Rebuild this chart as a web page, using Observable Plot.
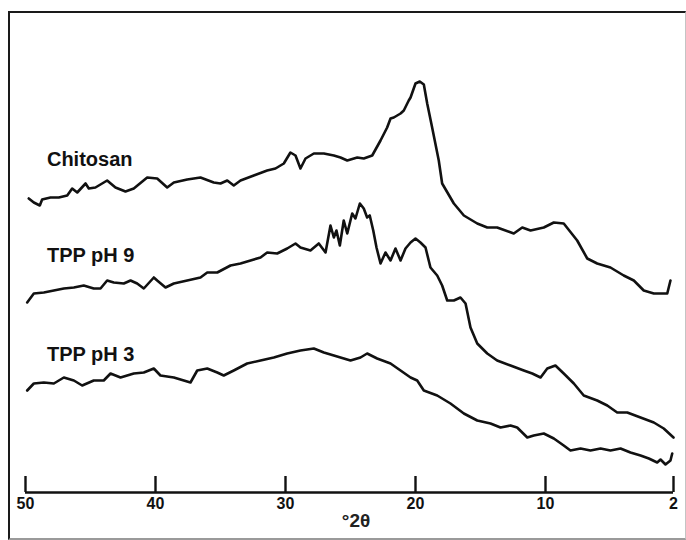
<!DOCTYPE html>
<html><head><meta charset="utf-8">
<script src="https://cdn.jsdelivr.net/npm/d3@7"></script>
<script src="https://cdn.jsdelivr.net/npm/@observablehq/plot@0.6"></script>
<style>
body{margin:0;background:#fff}
#wrap{position:relative;width:686px;height:540px;overflow:hidden;background:#fff}
#border{position:absolute;left:8px;top:11px;right:0;bottom:0;border-left:2px solid #1a1a1a;border-top:2px solid #1a1a1a;border-bottom:2px solid #9a9a9a;border-right:1px solid #c4c4c4;pointer-events:none}
</style></head><body><div id="wrap"><div id="border"></div></div>
<script>
// °2θ values and intensities (arbitrary units, traces offset vertically)
const chitosanAngle = [49.75,49.36,48.9,48.72,48.08,47.44,46.79,46.41,46.02,45.38,45.13,44.62,43.72,43.08,42.31,41.67,40.64,39.87,39.1,38.59,37.56,36.54,35.52,35.0,34.48,33.98,33.46,32.44,31.41,30.77,30.13,29.62,29.23,28.85,28.46,27.82,27.05,26.28,25.77,25.25,24.48,23.98,23.33,22.69,22.18,21.92,21.67,21.15,20.9,20.52,20.38,20.0,19.67,19.36,19.1,18.72,18.21,17.95,17.05,16.28,15.25,14.48,13.72,12.44,11.79,11.15,10.13,9.48,8.86,8.02,7.39,6.77,5.94,5.11,4.48,3.86,3.23,2.39,2.19];
const chitosanIntensity = [294,290,287,293,295,295,297,304,300,309,304,305,312,305,301,304,315,314,305,310,313,315,310,309,312,307,312,317,322,324,329,340,337,324,334,339,339,337,335,332,335,334,337,352,365,374,375,379,382,392,395,409,411,408,389,365,332,309,289,277,269,265,265,259,265,262,265,270,269,252,234,229,225,217,212,202,199,199,212];

const ph9Angle = [49.87,49.36,48.59,47.82,47.05,46.28,45.52,44.75,44.23,43.72,43.21,42.44,41.92,41.41,40.9,40.13,39.87,39.23,38.59,37.56,36.54,36.02,35.25,34.23,33.46,32.69,31.92,31.41,30.64,29.87,29.23,28.85,28.08,27.44,26.92,26.54,26.28,26.08,25.82,25.52,25.25,24.87,24.62,24.28,23.98,23.72,23.52,23.25,23.0,22.69,22.31,21.92,21.54,21.15,20.77,20.38,20.0,19.62,19.23,18.85,18.33,17.95,17.56,17.05,16.54,16.15,15.77,15.25,14.48,13.72,12.69,11.67,11.02,10.38,9.89,9.38,8.86,8.23,7.61,6.77,6.14,5.52,4.89,4.06,3.23,2.61,2.0];
const ph9Intensity = [190,199,200,202,204,205,207,204,204,212,210,209,212,209,204,215,212,205,209,212,215,220,220,227,229,232,235,240,239,244,249,245,242,249,240,267,255,262,247,272,259,279,274,289,284,275,277,262,245,229,240,232,244,232,244,250,254,250,245,225,217,207,192,192,195,189,165,149,139,132,127,122,119,115,124,127,119,109,97,92,87,80,80,75,70,64,55];

const ph3Angle = [49.87,49.36,48.59,47.82,47.05,46.28,45.64,44.75,43.98,43.46,42.69,41.67,40.9,40.13,39.62,38.59,37.31,36.79,36.02,35.25,34.75,33.98,32.95,31.92,30.9,29.87,28.85,27.82,27.05,26.28,25.77,25.0,24.23,23.72,22.95,21.92,21.15,20.38,19.87,19.36,18.33,17.31,16.28,15.25,14.23,13.46,12.69,12.18,11.4,10.9,10.13,9.48,8.86,8.44,7.81,7.19,6.56,5.94,5.31,4.69,4.06,3.54,3.02,2.81,2.5,2.19,2.08];
const ph3Intensity = [102,109,110,109,115,112,107,112,112,119,115,119,120,124,117,115,110,122,124,120,117,122,129,132,135,139,142,144,140,137,135,132,135,139,134,129,122,115,112,102,97,89,79,72,69,65,67,65,55,57,59,54,47,42,44,42,44,42,44,40,37,34,30,33,28,32,39];

const seriesNames = ["Chitosan", "TPP pH 9", "TPP pH 3"];
const labelAngle = 48.35;
const labelIntensity = [333, 237, 138];
const tickValues = [50, 40, 30, 20, 10, 2];
const axisTitle = "°2θ";

const angles = [chitosanAngle, ph9Angle, ph3Angle];
const intensities = [chitosanIntensity, ph9Intensity, ph3Intensity];
const rows = seriesNames.flatMap((name, i) =>
  angles[i].map((a, j) => ({series: name, angle: a, intensity: intensities[i][j]})));
const labels = seriesNames.map((name, i) => ({name, angle: labelAngle, intensity: labelIntensity[i]}));

const font = "'Liberation Sans', Arial, Helvetica, sans-serif";
const chart = Plot.plot({
  width: 686,
  height: 540,
  marginTop: 12,
  marginBottom: 48,
  marginLeft: 9,
  marginRight: 0,
  style: {fontFamily: font, background: "transparent", color: "#111"},
  x: {type: "linear", domain: [50, 10, 2], range: [25, 545, 673], axis: null},
  y: {type: "linear", domain: [0, 480], axis: null},
  marks: [
    Plot.ruleY([0], {x1: 50, x2: 2, stroke: "#111", strokeWidth: 2.4}),
    Plot.axisX(tickValues, {tickSize: -16, stroke: "#111", strokeWidth: 2.4, tickFormat: () => "", label: null}),
    Plot.axisX(tickValues, {tickSize: 0, tickPadding: 5, fontSize: 16, fontWeight: "bold", fill: "#111", label: null}),
    Plot.text([axisTitle], {frameAnchor: "bottom", dx: 8, dy: 34, fontSize: 19, fontWeight: "bold", fill: "#222"}),
    Plot.line(rows, {x: "angle", y: "intensity", z: "series", stroke: "#111", strokeWidth: 2.6, strokeLinejoin: "round"}),
    Plot.text(labels, {x: "angle", y: "intensity", text: "name", textAnchor: "start", fontSize: 20, fontWeight: "bold", fill: "#111"})
  ]
});
document.getElementById("wrap").prepend(chart);
</script>
</body></html>
